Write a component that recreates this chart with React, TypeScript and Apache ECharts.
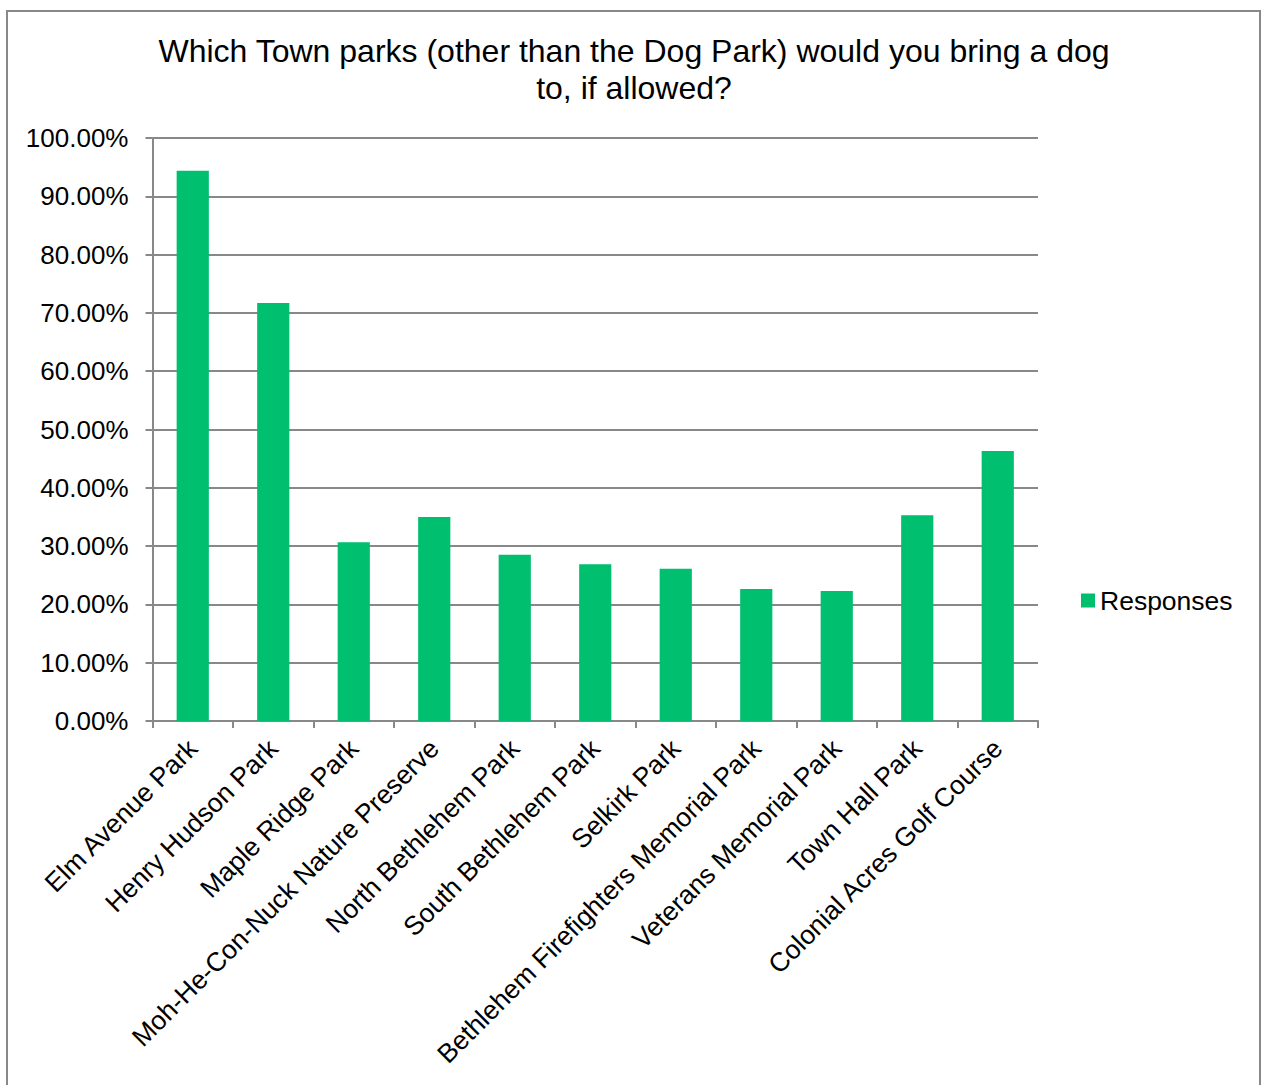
import React, { useEffect, useRef } from "react";
import * as echarts from "echarts";

const titleText = "Which Town parks (other than the Dog Park) would you bring a dog\nto, if allowed?";
const seriesName = "Responses";
const categories = [
  "Elm Avenue Park",
  "Henry Hudson Park",
  "Maple Ridge Park",
  "Moh-He-Con-Nuck Nature Preserve",
  "North Bethlehem Park",
  "South Bethlehem Park",
  "Selkirk Park",
  "Bethlehem Firefighters Memorial Park",
  "Veterans Memorial Park",
  "Town Hall Park",
  "Colonial Acres Golf Course",
];
const responses = [0.944, 0.717, 0.3065, 0.35, 0.285, 0.269, 0.261, 0.2266, 0.223, 0.353, 0.463];

const FONT = "'Liberation Sans', Arial, sans-serif";
const GRAY = "#888888";

export default function App() {
  const ref = useRef<HTMLDivElement>(null);
  useEffect(() => {
    document.body.style.margin = "0";
    const chart = echarts.init(ref.current!, null, { renderer: "svg" });
    chart.setOption({
      animation: false,
      backgroundColor: "#ffffff",
      textStyle: { fontFamily: FONT, color: "#000" },
      title: {
        text: titleText,
        left: 629,
        textAlign: "center",
        top: 27,
        textStyle: { fontFamily: FONT, fontSize: 32, fontWeight: "normal", color: "#000", lineHeight: 37 },
      },
      legend: {
        left: 1076,
        top: 582,
        orient: "vertical",
        itemWidth: 14,
        itemHeight: 14,
        itemGap: 6,
        icon: "rect",
        data: [seriesName],
        textStyle: { fontFamily: FONT, fontSize: 26.5, color: "#000", padding: [0, 0, 0, 0] },
      },
      grid: { left: 152.5, right: 224, top: 138, bottom: 364, containLabel: false },
      xAxis: {
        type: "category",
        data: categories,
        axisLine: { show: true, lineStyle: { color: GRAY, width: 2 } },
        axisTick: { show: true, length: 7, lineStyle: { color: GRAY, width: 2 } },
        axisLabel: {
          rotate: 45,
          interval: 0,
          margin: 23,
          fontFamily: FONT,
          fontSize: 26.5,
          color: "#000",
        },
      },
      yAxis: {
        type: "value",
        min: 0,
        max: 1,
        interval: 0.1,
        axisLine: { show: true, lineStyle: { color: GRAY, width: 2 } },
        axisTick: { show: true, length: 7, lineStyle: { color: GRAY, width: 2 } },
        splitLine: { show: true, lineStyle: { color: GRAY, width: 2 } },
        axisLabel: {
          margin: 24,
          fontFamily: FONT,
          fontSize: 26,
          color: "#000",
          formatter: (v: number) => (v * 100).toFixed(2) + "%",
        },
      },
      series: [
        {
          name: seriesName,
          type: "bar",
          data: responses,
          barWidth: "40%",
          itemStyle: { color: "#00bf6f" },
        },
      ],
      graphic: [
        {
          type: "rect",
          shape: { x: 7, y: 11, width: 1253, height: 1100 },
          style: { fill: "none", stroke: GRAY, lineWidth: 2 },
          silent: true,
        },
      ],
    });
    return () => chart.dispose();
  }, []);
  return (
    <div style={{ position: "absolute", left: 0, top: 0, width: 1262, height: 1085, overflow: "hidden" }}>
      <div ref={ref} style={{ width: 1262, height: 1085 }} />
    </div>
  );
}
